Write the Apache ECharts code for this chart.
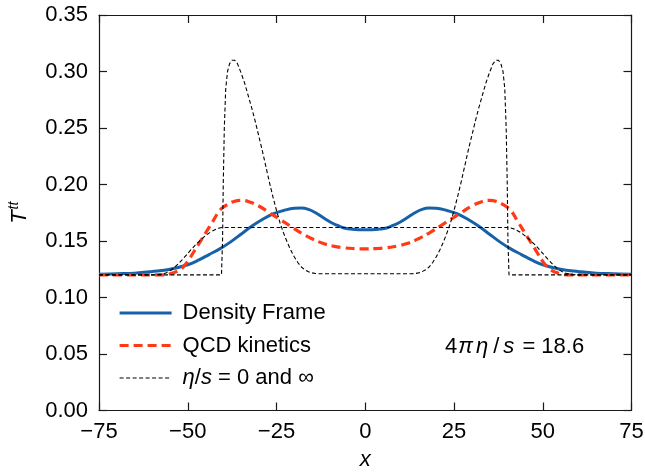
<!DOCTYPE html>
<html><head><meta charset="utf-8">
<script src="https://cdn.jsdelivr.net/npm/echarts@6/dist/echarts.min.js"></script>
<style>html,body{margin:0;padding:0;background:#fff}#c{width:645px;height:472px}</style>
</head><body><div id="c"></div><script>
// ---- data ----
const xTicks = [-75, -50, -25, 0, 25, 50, 75];
const yTicks = [0, 0.05, 0.10, 0.15, 0.20, 0.25, 0.30, 0.35];

const densityX = [-75,-70,-65,-60,-55,-50,-47,-44,-41,-38,-35,-32,-29,-26,-23,-20,-18,-16,-14,-12,-10,-8,-6,-4,-2,0,
                  2,4,6,8,10,12,14,16,18,20,23,26,29,32,35,38,41,44,47,50,55,60,65,70,75];
const densityY = [0.1205,0.121,0.1215,0.123,0.125,0.129,0.133,0.138,0.143,0.149,0.156,0.163,0.169,0.174,0.177,0.179,0.1792,0.178,0.175,0.171,0.167,0.164,0.1615,0.1605,0.16,0.16,
                  0.16,0.1605,0.1615,0.164,0.167,0.171,0.175,0.178,0.1792,0.179,0.177,0.174,0.169,0.163,0.156,0.149,0.143,0.138,0.133,0.129,0.125,0.123,0.1215,0.121,0.1205];

const qcdX = [-75,-65,-58,-55,-52,-50,-48,-45,-43,-41,-39,-37,-35,-33,-30,-27,-24,-21,-18,-15,-12,-9,-6,-3,0,
              3,6,9,12,15,18,21,24,27,30,33,35,37,39,41,43,45,48,50,52,55,58,65,75];
const qcdY = [0.12,0.12,0.12,0.121,0.125,0.132,0.142,0.157,0.167,0.177,0.182,0.185,0.186,0.185,0.181,0.175,0.169,0.163,0.157,0.152,0.148,0.1455,0.144,0.1433,0.143,
              0.1433,0.144,0.1455,0.148,0.152,0.157,0.163,0.169,0.175,0.181,0.185,0.186,0.185,0.182,0.177,0.167,0.157,0.142,0.132,0.125,0.121,0.12,0.12,0.12];

const idealX = [-75,-40.5,-40.2,-40.0,-39.7,-39.3,-38.8,-38.2,-37.5,-36.8,-36,-35,-34,-33,-32,-31,-30,-29,-28,-27,-26,-25,-24,-23,-22,-21,-20,-19,-18,-17,-16,-15,-14,-13,0,
                13,14,15,16,17,18,19,20,21,22,23,24,25,26,27,28,29,30,31,32,33,34,35,36,36.8,37.5,38.2,38.8,39.3,39.7,40.0,40.2,40.5,75];
const idealY = [0.12,0.12,0.15,0.20,0.25,0.285,0.300,0.307,0.310,0.310,0.307,0.299,0.290,0.279,0.268,0.256,0.243,0.230,0.216,0.202,0.189,0.177,0.166,0.157,0.149,0.142,0.136,0.131,0.127,0.1245,0.1228,0.1218,0.1212,0.121,0.121,
                0.121,0.1212,0.1218,0.1228,0.1245,0.127,0.131,0.136,0.142,0.149,0.157,0.166,0.177,0.189,0.202,0.216,0.230,0.243,0.256,0.268,0.279,0.290,0.299,0.307,0.310,0.310,0.307,0.300,0.285,0.25,0.20,0.15,0.12,0.12];

const freeX = [-75,-60,-58,-56,-54,-52,-50,-48,-46,-44,-42,-40,0,40,42,44,46,48,50,52,54,56,58,60,75];
const freeY = [0.12,0.12,0.1205,0.122,0.126,0.132,0.139,0.146,0.152,0.157,0.1605,0.162,0.162,0.162,0.1605,0.157,0.152,0.146,0.139,0.132,0.126,0.122,0.1205,0.12,0.12];

const legendNames = ['Density Frame', 'QCD kinetics', 'η/s = 0 and ∞'];
const annotation = '4{i|π}{i|η}{sl|/}{i|s} = 18.6';

// ---- chart ----
const pairs = (xs, ys) => xs.map((x, i) => [x, ys[i]]);
const FONT = 'Liberation Sans';
const FS = 22;
const BLUE = '#1761a8', RED = '#ff3a14';
const axisLine = {show: true, onZero: false, lineStyle: {color: '#1a1a1a', width: 1.2}};
const tick = {show: true, inside: true, length: 8, lineStyle: {color: '#1a1a1a', width: 1.2}};
const minus = v => String(v).replace('-', '\u2212');

const chart = echarts.init(document.getElementById('c'), null, {renderer: 'canvas'});
chart.setOption({
  animation: false,
  backgroundColor: '#fff',
  grid: {left: 99, right: 13.5, top: 15, bottom: 61.5, containLabel: false, outerBoundsMode: 'none'},
  xAxis: [
    {type: 'value', min: xTicks[0], max: xTicks[xTicks.length-1], interval: 25, position: 'bottom',
     axisLine, axisTick: tick, splitLine: {show: false},
     axisLabel: {show: true, margin: 10, color: '#000', fontFamily: FONT, fontSize: FS, formatter: v => minus(v)},
     name: 'x', nameLocation: 'middle', nameGap: 38,
     nameTextStyle: {fontFamily: FONT, fontSize: FS, fontStyle: 'italic', color: '#000'}},
    {type: 'value', min: xTicks[0], max: xTicks[xTicks.length-1], interval: 25, position: 'top',
     axisLine, axisTick: tick, splitLine: {show: false}, axisLabel: {show: false}}
  ],
  yAxis: [
    {type: 'value', min: yTicks[0], max: yTicks[yTicks.length-1], interval: 0.05, position: 'left',
     axisLine, axisTick: tick, splitLine: {show: false},
     axisLabel: {show: true, margin: 11, color: '#000', fontFamily: FONT, fontSize: FS, formatter: v => v.toFixed(2)},
     name: '{t|T}{s|tt}', nameLocation: 'middle', nameGap: 66, nameRotate: 90,
     nameTextStyle: {color: '#000', rich: {
       t: {fontFamily: FONT, fontSize: FS, fontStyle: 'italic', color: '#000'},
       s: {fontFamily: FONT, fontSize: 14, fontStyle: 'italic', color: '#000', padding: [0, 0, 12, 1]}
     }}},
    {type: 'value', min: yTicks[0], max: yTicks[yTicks.length-1], interval: 0.05, position: 'right',
     axisLine, axisTick: tick, splitLine: {show: false}, axisLabel: {show: false}}
  ],
  legend: {
    orient: 'vertical', left: 113, top: 297, itemWidth: 52, itemHeight: 14, itemGap: 10.5,
    data: [
      {name: legendNames[0], lineStyle: {width: 3, color: BLUE}},
      {name: legendNames[1], lineStyle: {width: 3.2, color: RED, type: [9, 5]}},
      {name: legendNames[2], lineStyle: {width: 1.1, color: '#000', type: [4, 2.5]}}
    ],
    itemStyle: {opacity: 0},
    textStyle: {fontFamily: FONT, fontSize: FS, color: '#000', padding: [0, 0, 0, 6],
      rich: {i: {fontFamily: FONT, fontSize: FS, fontStyle: 'italic', color: '#000'}}},
    formatter: n => n === legendNames[2] ? '{i|η}/{i|s} = 0 and ∞' : n
  },
  graphic: [{
    type: 'text', left: 445, top: 336, silent: true,
    style: {text: annotation, fill: '#000', font: FS + 'px ' + FONT,
      rich: {
        i: {fontFamily: FONT, fontSize: FS, fontStyle: 'italic', fill: '#000', color: '#000', padding: [0, 2, 0, 1]},
        sl: {fontFamily: FONT, fontSize: FS, fill: '#000', color: '#000', padding: [0, 3, 0, 3]}
      }}
  }],
  series: [
    {name: legendNames[0], type: 'line', data: pairs(densityX, densityY), smooth: 0.4, showSymbol: false, symbol: 'none',
     lineStyle: {color: BLUE, width: 3}, itemStyle: {color: BLUE}, z: 2},
    {name: legendNames[1], type: 'line', data: pairs(qcdX, qcdY), smooth: 0.4, showSymbol: false, symbol: 'none',
     lineStyle: {color: RED, width: 3.2, type: [9, 5]}, itemStyle: {color: RED}, z: 3},
    {name: legendNames[2], type: 'line', data: pairs(idealX, idealY), smooth: false, showSymbol: false, symbol: 'none',
     lineStyle: {color: '#000', width: 1.1, type: [4, 2.5]}, itemStyle: {color: '#000'}, z: 4},
    {name: legendNames[2], type: 'line', data: pairs(freeX, freeY), smooth: 0.3, showSymbol: false, symbol: 'none',
     lineStyle: {color: '#000', width: 1.1, type: [4, 2.5]}, itemStyle: {color: '#000'}, z: 4}
  ]
});
</script></body></html>
